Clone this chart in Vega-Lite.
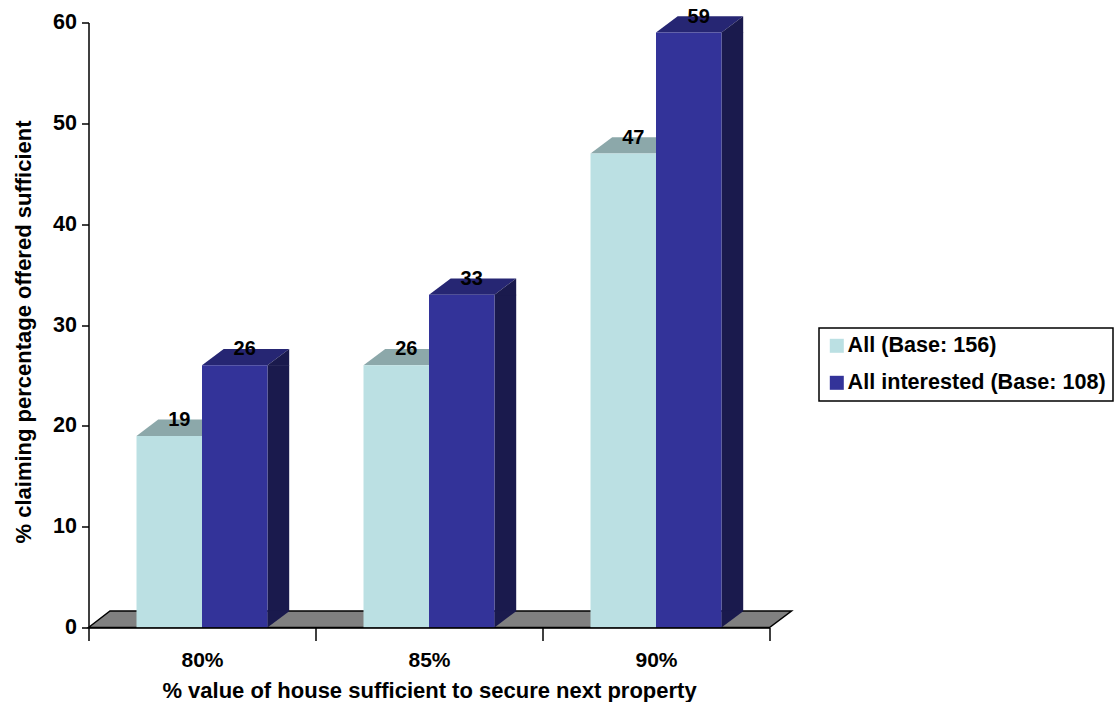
{
"$schema":"https://vega.github.io/schema/vega-lite/v6.json",
"width":681,"height":605,
"autosize":"none",
"padding":{"left":88.5,"top":22.5,"right":347.5,"bottom":74.5},
"background":"#ffffff",
"data":{"values":[
{"category":"80%","series":"All (Base: 156)","value":19},
{"category":"80%","series":"All interested (Base: 108)","value":26},
{"category":"85%","series":"All (Base: 156)","value":26},
{"category":"85%","series":"All interested (Base: 108)","value":33},
{"category":"90%","series":"All (Base: 156)","value":47},
{"category":"90%","series":"All interested (Base: 108)","value":59}
]},
"config":{"font":"Liberation Sans","view":{"stroke":null},
"axis":{"domainColor":"#000000","domainWidth":1.5,"tickColor":"#000000","tickWidth":1.5,"labelColor":"#000000","titleColor":"#000000","labelFontWeight":"bold","titleFontWeight":"bold","grid":false}},
"encoding":{
"x":{"field":"category","type":"nominal","scale":{"paddingInner":0,"paddingOuter":0},
"axis":{"title":"% value of house sufficient to secure next property","labelAngle":0,"tickBand":"extent","tickSize":13,"labelFontSize":21,"labelPadding":9,"titleFontSize":22,"titlePadding":10,"zindex":1}},
"y":{"field":"value","type":"quantitative","scale":{"domain":[0,60],"nice":false},
"axis":{"title":"% claiming percentage offered sufficient","values":[0,10,20,30,40,50,60],"tickSize":7,"labelFontSize":21.5,"labelPadding":5,"titleFontSize":22,"titlePadding":17,"titleY":309}}
},
"layer":[
{"transform":[{"filter":"datum.category=='85%' && datum.series=='All (Base: 156)'"}],
 "mark":{"type":"point","filled":true,"size":4,"color":"#808080","opacity":1,"stroke":"#000000","strokeWidth":1.5,"shape":"M-340.5,0 L-319,-16.5 L362.5,-16.5 L340.5,0 Z"},
 "encoding":{"y":{"datum":0,"type":"quantitative","scale":{"domain":[0,60],"nice":false},
 "axis":{"title":"% claiming percentage offered sufficient","values":[0,10,20,30,40,50,60],"tickSize":7,"labelFontSize":21.5,"labelPadding":5,"titleFontSize":22,"titlePadding":17,"titleY":309}}}},
{"transform":[{"filter":"datum.series=='All (Base: 156)'"}],
 "mark":{"type":"point","filled":true,"size":4,"color":"#8CA8AA","opacity":1,"shape":"M-32.75,0 L32.75,0 L54.45,-16.3 L-11.05,-16.3 Z"},
 "encoding":{"xOffset":{"field":"series","type":"nominal","scale":{"domain":["All (Base: 156)","All interested (Base: 108)"],"paddingInner":0,"paddingOuter":0.733}}}},
{"transform":[{"filter":"datum.series!='All (Base: 156)'"}],
 "mark":{"type":"point","filled":true,"size":4,"color":"#262673","opacity":1,"shape":"M-32.75,0 L32.75,0 L54.45,-16.3 L-11.05,-16.3 Z"},
 "encoding":{"xOffset":{"field":"series","type":"nominal","scale":{"domain":["All (Base: 156)","All interested (Base: 108)"],"paddingInner":0,"paddingOuter":0.733}}}},
{"transform":[{"filter":"datum.series!='All (Base: 156)'"}],
 "mark":{"type":"bar","color":"#1A1A4D","width":21.7,"xOffset":76.35,"y2Offset":-16.3},
 "encoding":{"y2":{"datum":0}}},
{"transform":[{"filter":"datum.series!='All (Base: 156)'"}],
 "mark":{"type":"point","filled":true,"size":4,"color":"#1A1A4D","opacity":1,"shape":"M32.75,0 L54.45,-16.3 L54.45,0.5 L32.75,0.5 Z"},
 "encoding":{"xOffset":{"field":"series","type":"nominal","scale":{"domain":["All (Base: 156)","All interested (Base: 108)"],"paddingInner":0,"paddingOuter":0.733}}}},
{"transform":[{"filter":"datum.series!='All (Base: 156)'"}],
 "mark":{"type":"point","filled":true,"size":4,"color":"#1A1A4D","opacity":1,"shape":"M32.75,0 L32.75,-16.8 L54.45,-16.8 L54.45,-16.3 Z"},
 "encoding":{"y":{"datum":0,"type":"quantitative","scale":{"domain":[0,60],"nice":false},
 "axis":{"title":"% claiming percentage offered sufficient","values":[0,10,20,30,40,50,60],"tickSize":7,"labelFontSize":21.5,"labelPadding":5,"titleFontSize":22,"titlePadding":17,"titleY":309}},"xOffset":{"field":"series","type":"nominal","scale":{"domain":["All (Base: 156)","All interested (Base: 108)"],"paddingInner":0,"paddingOuter":0.733}}}},
{"mark":{"type":"bar","opacity":1},
 "encoding":{"y2":{"datum":0},
  "xOffset":{"field":"series","type":"nominal","scale":{"domain":["All (Base: 156)","All interested (Base: 108)"],"paddingInner":0,"paddingOuter":0.733}},
  "color":{"field":"series","type":"nominal","scale":{"domain":["All (Base: 156)","All interested (Base: 108)"],"range":["#BBE0E3","#333399"]},
   "legend":{"title":null,"orient":"none","legendX":730.5,"legendY":305.5,"direction":"vertical","strokeColor":"#000000","fillColor":"#ffffff","padding":7,"symbolType":"square","symbolSize":196,"symbolOpacity":1,"symbolStrokeWidth":0,"labelFontSize":21.6,"labelFontWeight":"bold","labelColor":"#000000","labelLimit":400,"rowPadding":14,"labelOffset":0,"offset":0,"encode":{"legend":{"update":{"strokeWidth":{"value":1.5}}}}}}}},
{"mark":{"type":"text","font":"Liberation Sans","fontWeight":"bold","fontSize":20,"color":"#000000","dx":10,"dy":-16,"baseline":"middle","align":"center"},
 "encoding":{"text":{"field":"value","type":"quantitative"},
  "xOffset":{"field":"series","type":"nominal","scale":{"domain":["All (Base: 156)","All interested (Base: 108)"],"paddingInner":0,"paddingOuter":0.733}}}}
]
}
